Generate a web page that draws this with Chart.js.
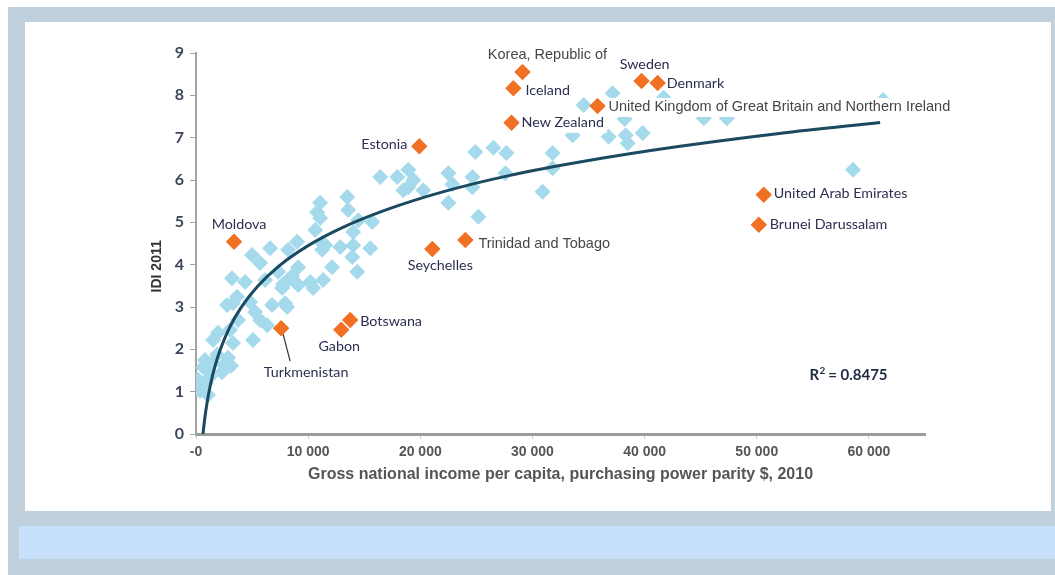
<!DOCTYPE html>
<html>
<head>
<meta charset="utf-8">
<title>IDI 2011 vs GNI per capita</title>
<style>
  html, body { margin: 0; padding: 0; background: #fff; overflow: hidden; }
  #frame { position: absolute; left: 8px; top: 7px; width: 1047px; height: 568px; background: #c0d0dd; }
  #panel { position: absolute; left: 25px; top: 22px; width: 1026px; height: 489px; background: #fff; }
  #strip { position: absolute; left: 19px; top: 526px; width: 1036px; height: 33px; background: #c7e1fb; }
  #chart { position: absolute; left: 0; top: 0; }
</style>
<script src="https://cdn.jsdelivr.net/npm/chart.js@4.4.0/dist/chart.umd.min.js"></script>
</head>
<body>
<div id="frame"></div>
<div id="panel"></div>
<div id="strip"></div>
<canvas id="chart" width="1055" height="575"></canvas>

<script>
// ── Data ──────────────────────────────────────────────────────────

// All other economies (light blue)
const blueX = [
  180, 360, 890, 1070, 1070, 1520, 800, 1880, 2320, 2860,
  1520, 1960, 3300, 5090, 2500, 3130, 3750, 6340, 3300, 4820,
  6790, 7950, 2770, 5270, 5710, 3210, 4380, 3660, 6160, 7320,
  9110, 8220, 7680, 9110, 10450, 11340, 12140, 11520, 5000, 6610,
  8220, 5710, 8130, 8570, 7770, 9020, 11250, 11250, 12860, 14020,
  15540, 13930, 14380, 10180, 10630, 11070, 10800, 11070, 13480, 13570,
  14470, 15720, 14020, 16430, 17950, 18930, 18930, 18480, 20270, 19380,
  22500, 22500, 22860, 24650, 24650, 24910, 26520, 27680, 27590, 25180,
  30900, 31790, 31790, 33580, 34560, 34740, 37150, 36790, 38310, 38490,
  39830, 41700, 45280, 47330, 58580, 61260, 38220, 3040, 630, 1250,
];
const blueY = [
  1.28, 1.02, 1.20, 0.92, 1.49, 1.68, 1.75, 1.87, 1.46, 1.80,
  2.22, 2.39, 2.15, 2.22, 1.63, 1.61, 2.69, 2.57, 3.09, 3.12,
  3.05, 3.09, 3.05, 2.88, 2.69, 3.68, 3.59, 3.24, 3.64, 3.83,
  3.94, 3.64, 3.45, 3.52, 3.45, 3.64, 3.94, 4.46, 4.23, 4.39,
  4.35, 4.04, 3.00, 3.73, 3.54, 4.54, 4.51, 4.35, 4.42, 4.46,
  4.39, 4.18, 3.83, 3.59, 4.82, 5.10, 5.24, 5.46, 5.60, 5.29,
  5.05, 5.01, 4.77, 6.07, 6.07, 6.24, 5.83, 5.76, 5.76, 6.00,
  6.16, 5.46, 5.90, 6.07, 5.83, 6.66, 6.76, 6.64, 6.16, 5.13,
  5.72, 6.64, 6.28, 7.06, 7.77, 7.32, 8.05, 7.02, 7.06, 6.87,
  7.11, 7.94, 7.46, 7.46, 6.24, 7.89, 7.44, 2.46, 1.58, 1.35,
];

// Highlighted economies (orange)
const orangeNames = [
  'Korea, Republic of', 'Iceland', 'New Zealand', 'Sweden', 'Denmark',
  'United Kingdom of Great Britain and Northern Ireland', 'Estonia', 'Moldova',
  'Seychelles', 'Trinidad and Tobago', 'Botswana', 'Gabon', 'Turkmenistan',
  'United Arab Emirates', 'Brunei Darussalam',
];
const orangeX = [29110, 28300, 28130, 39730, 41160, 35800, 19910, 3390, 21070, 24020, 13750, 12950, 7590, 50620, 50180];
const orangeY = [8.55, 8.17, 7.35, 8.34, 8.29, 7.75, 6.80, 4.54, 4.37, 4.58, 2.69, 2.46, 2.50, 5.65, 4.94];

// Logarithmic trend line
const trendX = [620, 800, 1000, 1300, 1700, 2200, 3000, 4000, 5500, 7500, 10000, 13000, 17000, 22000, 28000, 35000, 43000, 52000, 61000];
const trendY = [0.00, 0.40, 0.76, 1.18, 1.61, 2.02, 2.52, 2.98, 3.49, 3.99, 4.45, 4.87, 5.30, 5.72, 6.11, 6.46, 6.79, 7.10, 7.36];

const rSquared = '0.8475';
const xTickValues = [0, 10000, 20000, 30000, 40000, 50000, 60000];

// ── Label layout (offsets from each orange point, in px) ─────────

const labelLayout = [
  { dx: 25, dy: -17, align: 'center', font: 'a', box: true },   // Korea
  { dx: 12, dy: 2, align: 'left', font: 'c' },                  // Iceland
  { dx: 10, dy: 0, align: 'left', font: 'c', box: true },       // New Zealand
  { dx: 3, dy: -17, align: 'center', font: 'c' },               // Sweden
  { dx: 9, dy: 0, align: 'left', font: 'c' },                   // Denmark
  { dx: 11, dy: 1, align: 'left', font: 'a', box: true },       // UK
  { dx: -12, dy: -2, align: 'right', font: 'c' },               // Estonia
  { dx: 5, dy: -17, align: 'center', font: 'c' },               // Moldova
  { dx: 8, dy: 16, align: 'center', font: 'c' },                // Seychelles
  { dx: 13, dy: 4, align: 'left', font: 'a', box: true },       // Trinidad
  { dx: 10, dy: 1, align: 'left', font: 'c' },                  // Botswana
  { dx: -2, dy: 17, align: 'center', font: 'c' },               // Gabon
  { dx: 25, dy: 44, align: 'center', font: 'c', leader: [2, 6, 9, 33] }, // Turkmenistan
  { dx: 10, dy: -1, align: 'left', font: 'c' },                 // UAE
  { dx: 11, dy: 0, align: 'left', font: 'c' },                  // Brunei
];

const FONT_C = 'Lato, "Open Sans", sans-serif';
const FONT_A = '"Liberation Sans", Arial, sans-serif';

function fmtThousands(v) {
  if (v === 0) return '-0';
  return String(v).replace(/\B(?=(\d{3})+(?!\d))/g, ' ');
}

// ── Annotation plugin: point labels, axis title, R² ──────────────

const annotations = {
  id: 'annotations',
  afterDatasetsDraw(chart) {
    const { ctx, chartArea, scales: { x, y } } = chart;
    ctx.save();
    ctx.textBaseline = 'middle';

    orangeNames.forEach((name, i) => {
      const st = labelLayout[i];
      const px = x.getPixelForValue(orangeX[i]);
      const py = y.getPixelForValue(orangeY[i]);
      const tx = px + st.dx;
      const ty = py + st.dy;

      if (st.font === 'a') {
        ctx.font = '14.5px ' + FONT_A;
        ctx.fillStyle = '#474747';
      } else {
        ctx.font = '14.3px ' + FONT_C;
        ctx.fillStyle = '#2c2f50';
      }
      ctx.textAlign = st.align;
      const w = ctx.measureText(name).width;

      if (st.box) {
        let left = tx;
        if (st.align === 'center') left = tx - w / 2;
        if (st.align === 'right') left = tx - w;
        ctx.save();
        ctx.fillStyle = '#fff';
        ctx.fillRect(left - 2, ty - 9, w + 5, 19);
        ctx.restore();
      }
      if (st.leader) {
        const [x1, y1, x2, y2] = st.leader;
        ctx.save();
        ctx.strokeStyle = '#333';
        ctx.lineWidth = 1.2;
        ctx.beginPath();
        ctx.moveTo(px + x1, py + y1);
        ctx.lineTo(px + x2, py + y2);
        ctx.stroke();
        ctx.restore();
      }
      ctx.fillText(name, tx, ty);
    });

    // redraw orange diamonds over any label boxes
    const meta = chart.getDatasetMeta(2);
    meta.data.forEach(pt => pt.draw(ctx, chartArea));

    // y-axis title
    ctx.save();
    ctx.translate(chartArea.left - 39, chartArea.top + (chartArea.bottom - chartArea.top) * 0.56);
    ctx.rotate(-Math.PI / 2);
    ctx.textAlign = 'center';
    ctx.font = 'bold 14px ' + FONT_A;
    ctx.fillStyle = '#333';
    ctx.fillText('IDI 2011', 0, 0);
    ctx.restore();

    // R²
    const rx = x.getPixelForValue(54700);
    const ry = y.getPixelForValue(1.39);
    ctx.textAlign = 'left';
    ctx.fillStyle = '#1f2944';
    ctx.font = 'bold 15px ' + FONT_C;
    ctx.fillText('R', rx, ry);
    ctx.font = 'bold 10px ' + FONT_C;
    ctx.fillText('2', rx + 10, ry - 4);
    ctx.font = 'bold 15px ' + FONT_C;
    ctx.fillText(' = ' + rSquared, rx + 15, ry);

    ctx.restore();
  },
};

// ── Chart ────────────────────────────────────────────────────────

const ctx = document.getElementById('chart').getContext('2d');

new Chart(ctx, {
  type: 'scatter',
  data: {
    datasets: [
      {
        label: 'Economies',
        data: blueX.map((v, i) => ({ x: v, y: blueY[i] })),
        pointStyle: 'rectRot',
        pointRadius: 8,
        pointHoverRadius: 8,
        pointBorderWidth: 0,
        backgroundColor: '#a4daeb',
        borderColor: '#a4daeb',
        order: 3,
      },
      {
        label: 'Trend',
        data: trendX.map((v, i) => ({ x: v, y: trendY[i] })),
        showLine: true,
        pointRadius: 0,
        pointHoverRadius: 0,
        borderColor: '#1b4a60',
        borderWidth: 3,
        cubicInterpolationMode: 'monotone',
        order: 2,
      },
      {
        label: 'Highlighted',
        data: orangeX.map((v, i) => ({ x: v, y: orangeY[i] })),
        pointStyle: 'rectRot',
        pointRadius: 8,
        pointHoverRadius: 8,
        pointBorderWidth: 0,
        backgroundColor: '#f07024',
        borderColor: '#f07024',
        order: 1,
      },
    ],
  },
  options: {
    responsive: false,
    devicePixelRatio: 1,
    animation: false,
    layout: { padding: { left: 146, top: 53, right: 130, bottom: 91 } },
    scales: {
      x: {
        type: 'linear',
        min: 0,
        max: 65000,
        afterFit: s => { s.height = 50; },
        afterBuildTicks: s => { s.ticks = xTickValues.map(v => ({ value: v })); },
        ticks: {
          color: '#555',
          padding: 5,
          maxRotation: 0,
          font: { family: FONT_A, size: 14, weight: 'bold' },
          callback: v => fmtThousands(v),
        },
        grid: { drawOnChartArea: false, tickLength: 5, color: '#cfcfcf', lineWidth: 1 },
        border: { color: '#9b9b9b', width: 3 },
        title: {
          display: true,
          text: 'Gross national income per capita, purchasing power parity $, 2010',
          color: '#555',
          padding: 0,
          font: { family: FONT_A, size: 16, weight: 'bold' },
        },
      },
      y: {
        min: 0,
        max: 9,
        afterFit: s => { s.width = 50; },
        ticks: {
          stepSize: 1,
          color: '#3b4759',
          padding: 6,
          font: { family: FONT_C, size: 16, weight: 'bold' },
        },
        grid: { drawOnChartArea: false, tickLength: 6, color: '#a3a3a3', lineWidth: 1 },
        border: { color: '#a3a3a3', width: 2 },
      },
    },
    plugins: {
      legend: { display: false },
      tooltip: { enabled: false },
    },
  },
  plugins: [annotations],
});
</script>
</body>
</html>
